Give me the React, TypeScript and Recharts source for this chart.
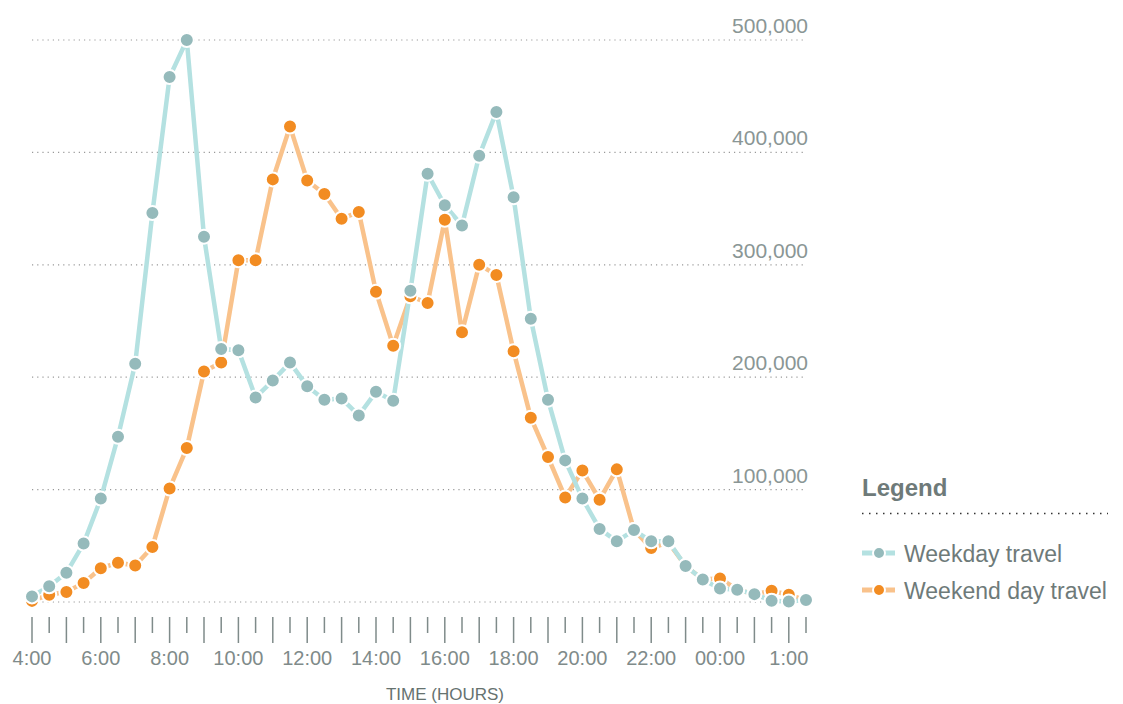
import React from 'react';
import { LineChart, Line, XAxis, YAxis, CartesianGrid } from 'recharts';

const times = [
  '4:00', '4:30', '5:00', '5:30', '6:00', '6:30', '7:00', '7:30', '8:00', '8:30',
  '9:00', '9:30', '10:00', '10:30', '11:00', '11:30', '12:00', '12:30', '13:00', '13:30',
  '14:00', '14:30', '15:00', '15:30', '16:00', '16:30', '17:00', '17:30', '18:00', '18:30',
  '19:00', '19:30', '20:00', '20:30', '21:00', '21:30', '22:00', '22:30', '23:00', '23:30',
  '0:00', '0:30', '1:00', '1:30', '2:00', '2:30'
];

const weekdayTravel = [
  5000, 14000, 26000, 52000, 92000, 147000, 212000, 346000, 467000, 500000,
  325000, 225000, 224000, 182000, 197000, 213000, 192000, 180000, 181000, 166000,
  187000, 179000, 277000, 381000, 353000, 335000, 397000, 436000, 360000, 252000,
  180000, 126000, 92000, 65000, 54000, 64000, 54000, 54000, 32000, 20000,
  12000, 11000, 7000, 1200, 500, 1800
];

const weekendTravel = [
  1000, 6500, 9000, 17000, 30000, 35000, 32500, 49000, 101000, 137000,
  205000, 213000, 304000, 304000, 376000, 423000, 375000, 363000, 341000, 347000,
  276000, 228000, 272000, 266000, 340000, 240000, 300000, 291000, 223000, 164000,
  129000, 93000, 117000, 91000, 118000, 64000, 48000, 53000, 32000, 20000,
  21000, 11000, 7000, 10000, 6500, 1500
];

// shown every 2 hours (every 4th half-hour tick)
const hourLabels = ['4:00', '6:00', '8:00', '10:00', '12:00', '14:00', '16:00', '18:00', '20:00', '22:00', '00:00', '1:00'];
const countTicks = [0, 100000, 200000, 300000, 400000, 500000];

const data = times.map((time, i) => ({
  time,
  weekday: weekdayTravel[i],
  weekend: weekendTravel[i]
}));

const FONT = '"Liberation Sans", Arial, Helvetica, sans-serif';
const TICK_GREY = '#7f8b8a';
const TEXT_GREY = '#6e7a79';
const TEAL_LINE = '#b4e1e1';
const TEAL_DOT = '#95babb';
const ORANGE_LINE = '#f9c28b';
const ORANGE_DOT = '#f28c22';

const TimeTick = (props: any) => {
  const { x, y } = props;
  const i = props.index ?? props.payload?.index ?? 0;
  const isHour = i % 2 === 0;
  return (
    <g>
      <line x1={x} x2={x} y1={y + 15} y2={y + (isHour ? 41 : 31)} stroke={TICK_GREY} strokeWidth={1.5} />
      {i % 4 === 0 && (
        <text x={x} y={y + 63} textAnchor="middle" fontSize={20} fill={TICK_GREY} fontFamily={FONT}>
          {hourLabels[i / 4]}
        </text>
      )}
    </g>
  );
};

const CountTick = (props: any) => {
  const { x, y, payload } = props;
  if (!payload || payload.value === 0) return <g />;
  return (
    <text x={x + 2} y={y - 7} textAnchor="end" fontSize={21} fill="#8a9695" fontFamily={FONT}>
      {payload.value.toLocaleString('en-US')}
    </text>
  );
};

const AxisTitle = (props: any) => {
  const vb = props.viewBox || { x: 0, y: 0, width: 0, height: 0 };
  return (
    <text
      x={vb.x + vb.width / 2 + 26}
      y={vb.y + vb.height - 2}
      textAnchor="middle"
      fontSize={17}
      fill="#66726f"
      fontFamily={FONT}
    >
      TIME (HOURS)
    </text>
  );
};

const LegendBox = () => (
  <svg width={1123} height={704} style={{ position: 'absolute', left: 0, top: 0, pointerEvents: 'none' }}>
    <text x={862} y={496} fontSize={24} fontWeight="bold" fill={TEXT_GREY} fontFamily={FONT}>Legend</text>
    <line x1={862} x2={1108} y1={513.5} y2={513.5} stroke="#333" strokeWidth={1.5} strokeDasharray="1.5 5.5" />
    <line x1={862} x2={895} y1={553} y2={553} stroke={TEAL_LINE} strokeWidth={5} />
    <circle cx={879} cy={553} r={6} fill={TEAL_DOT} stroke="#fff" strokeWidth={2} />
    <text x={904} y={561.5} fontSize={23} fill={TEXT_GREY} fontFamily={FONT}>Weekday travel</text>
    <line x1={862} x2={895} y1={590} y2={590} stroke={ORANGE_LINE} strokeWidth={5} />
    <circle cx={879} cy={590} r={6} fill={ORANGE_DOT} stroke="#fff" strokeWidth={2} />
    <text x={904} y={598.5} fontSize={23} fill={TEXT_GREY} fontFamily={FONT}>Weekend day travel</text>
  </svg>
);

const App: React.FC = () => (
  <div style={{ position: 'absolute', left: 0, top: 0, width: 1123, height: 704, fontFamily: FONT }}>
    <LineChart width={1123} height={704} data={data} margin={{ top: 40, right: 316, bottom: 2, left: 32 }}>
      <CartesianGrid vertical={false} stroke="#999" strokeWidth={1.2} strokeDasharray="1.2 4" />
      <XAxis
        dataKey="time"
        interval={0}
        height={100}
        axisLine={false}
        tickLine={false}
        tickSize={0}
        tickMargin={0}
        tick={<TimeTick />}
        label={<AxisTitle />}
      />
      <YAxis
        orientation="right"
        width={1}
        domain={[0, 500000]}
        ticks={countTicks}
        interval={0}
        axisLine={false}
        tickLine={false}
        tickSize={0}
        tickMargin={0}
        tick={<CountTick />}
      />
      <Line
        type="linear"
        dataKey="weekend"
        name="Weekend day travel"
        stroke={ORANGE_LINE}
        strokeWidth={4.5}
        dot={{ r: 7, fill: ORANGE_DOT, stroke: '#fff', strokeWidth: 2 }}
        activeDot={false}
        isAnimationActive={false}
      />
      <Line
        type="linear"
        dataKey="weekday"
        name="Weekday travel"
        stroke={TEAL_LINE}
        strokeWidth={4.5}
        dot={{ r: 7, fill: TEAL_DOT, stroke: '#fff', strokeWidth: 2 }}
        activeDot={false}
        isAnimationActive={false}
      />
    </LineChart>
    <LegendBox />
  </div>
);

export default App;
